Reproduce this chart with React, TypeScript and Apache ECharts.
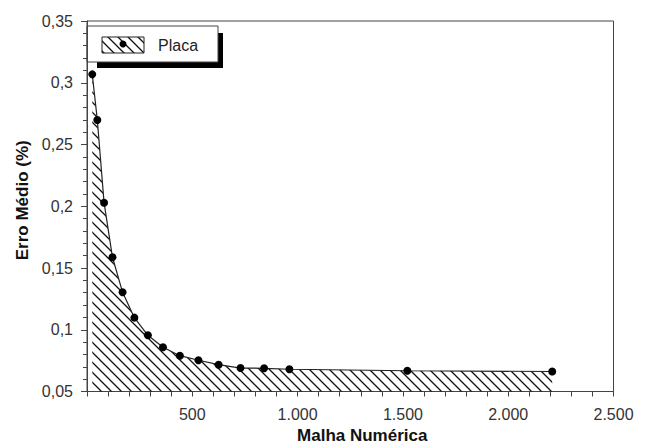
import React, { useEffect, useRef } from "react";
import * as echarts from "echarts";

const meshSizes = [25, 49, 81, 121, 169, 225, 289, 361, 441, 529, 625, 729, 841, 961, 1521, 2209];
const meanErrors = [0.3068, 0.2698, 0.2029, 0.1587, 0.1303, 0.1098, 0.0955, 0.0858, 0.079, 0.0753, 0.0717, 0.069, 0.0688, 0.068, 0.0668, 0.0662];
const seriesName = "Placa";
const xTitle = "Malha Numérica";
const yTitle = "Erro Médio (%)";

function makeHatch() {
  const s = 10;
  const c = document.createElement("canvas");
  c.width = s;
  c.height = s;
  const ctx = c.getContext("2d")!;
  ctx.strokeStyle = "#111";
  ctx.lineWidth = 1.3;
  ctx.beginPath();
  ctx.moveTo(-2, -2);
  ctx.lineTo(s + 2, s + 2);
  ctx.moveTo(-2, s - 2);
  ctx.lineTo(2, s + 2);
  ctx.moveTo(s - 2, -2);
  ctx.lineTo(s + 2, 2);
  ctx.stroke();
  return { image: c, repeat: "repeat", imageWidth: s, imageHeight: s } as any;
}

const fmtX = (v: number) => (v === 0 ? "" : v >= 1000 ? `${Math.floor(v / 1000)}.${String(v % 1000).padStart(3, "0")}` : String(v));
const fmtY = (v: number) => String(Number(v.toFixed(2))).replace(".", ",");

export default function App() {
  const ref = useRef<HTMLDivElement>(null);
  useEffect(() => {
    if (!ref.current) return;
    const chart = echarts.init(ref.current, null, { renderer: "svg" });
    const hatch = makeHatch();
    const data = meshSizes.map((x, i) => [x, meanErrors[i]]);
    const font = "'Liberation Sans', Arial, sans-serif";
    chart.setOption({
      animation: false,
      backgroundColor: "#fff",
      grid: {
        left: 87,
        top: 21,
        right: 34.5,
        bottom: 52.5,
        containLabel: false,
        outerBoundsMode: "none",
        show: true,
        borderColor: "#444",
        borderWidth: 1,
      },
      xAxis: {
        type: "value",
        min: 0,
        max: 2500,
        interval: 500,
        name: xTitle,
        nameLocation: "middle",
        nameGap: 34,
        nameTextStyle: { fontFamily: font, fontWeight: "bold", fontSize: 17, color: "#111", padding: [0, 0, 0, 24] },
        axisLine: { show: true, lineStyle: { color: "#444", width: 1 } },
        axisTick: { show: true, inside: false, length: 5, lineStyle: { color: "#444" } },
        minorTick: { show: true, splitNumber: 5, length: 5, lineStyle: { color: "#444" } },
        splitLine: { show: false },
        axisLabel: { formatter: fmtX, fontFamily: font, fontSize: 16, color: "#333", margin: 15 },
      },
      yAxis: {
        type: "value",
        min: 0.05,
        max: 0.35,
        interval: 0.05,
        name: yTitle,
        nameLocation: "middle",
        nameGap: 54,
        nameTextStyle: { fontFamily: font, fontWeight: "bold", fontSize: 17, color: "#111", padding: [0, 0, 0, 12] },
        axisLine: { show: true, lineStyle: { color: "#444", width: 1 } },
        axisTick: { show: true, inside: false, length: 6, lineStyle: { color: "#444" } },
        minorTick: { show: true, splitNumber: 5, length: 4, lineStyle: { color: "#444" } },
        splitLine: { show: false },
        axisLabel: { formatter: fmtY, fontFamily: font, fontSize: 16, color: "#333", margin: 14 },
      },
      series: [
        {
          type: "line",
          name: seriesName,
          data,
          symbol: "circle",
          symbolSize: 8,
          itemStyle: { color: "#000" },
          lineStyle: { color: "#222", width: 1.2 },
          areaStyle: { origin: "start", color: hatch, opacity: 1 },
        },
      ],
      graphic: [
        {
          type: "group",
          x: 87,
          y: 26,
          z: 100,
          children: [
            { type: "rect", shape: { x: 131, y: 7, width: 5, height: 35 }, style: { fill: "#000" } },
            { type: "rect", shape: { x: 10, y: 36, width: 126, height: 6 }, style: { fill: "#000" } },
            { type: "rect", shape: { x: 0, y: 0, width: 131, height: 36 }, style: { fill: "#fff", stroke: "#444", lineWidth: 1 } },
            { type: "rect", shape: { x: 15, y: 11, width: 42, height: 16 }, style: { fill: hatch, stroke: "#222", lineWidth: 1 } },
            { type: "circle", shape: { cx: 36, cy: 18, r: 3.5 }, style: { fill: "#000" } },
            { type: "text", x: 71, y: 19, style: { text: seriesName, font: `16px ${font}`, fill: "#222", verticalAlign: "middle" } },
          ],
        },
        { type: "rect", z: 100, shape: { x: 637, y: 398, width: 11, height: 30 }, style: { fill: "#fff" } },
      ],
    });
    return () => chart.dispose();
  }, []);
  return <div ref={ref} style={{ position: "fixed", left: 0, top: 0, width: 648, height: 444 }} />;
}
